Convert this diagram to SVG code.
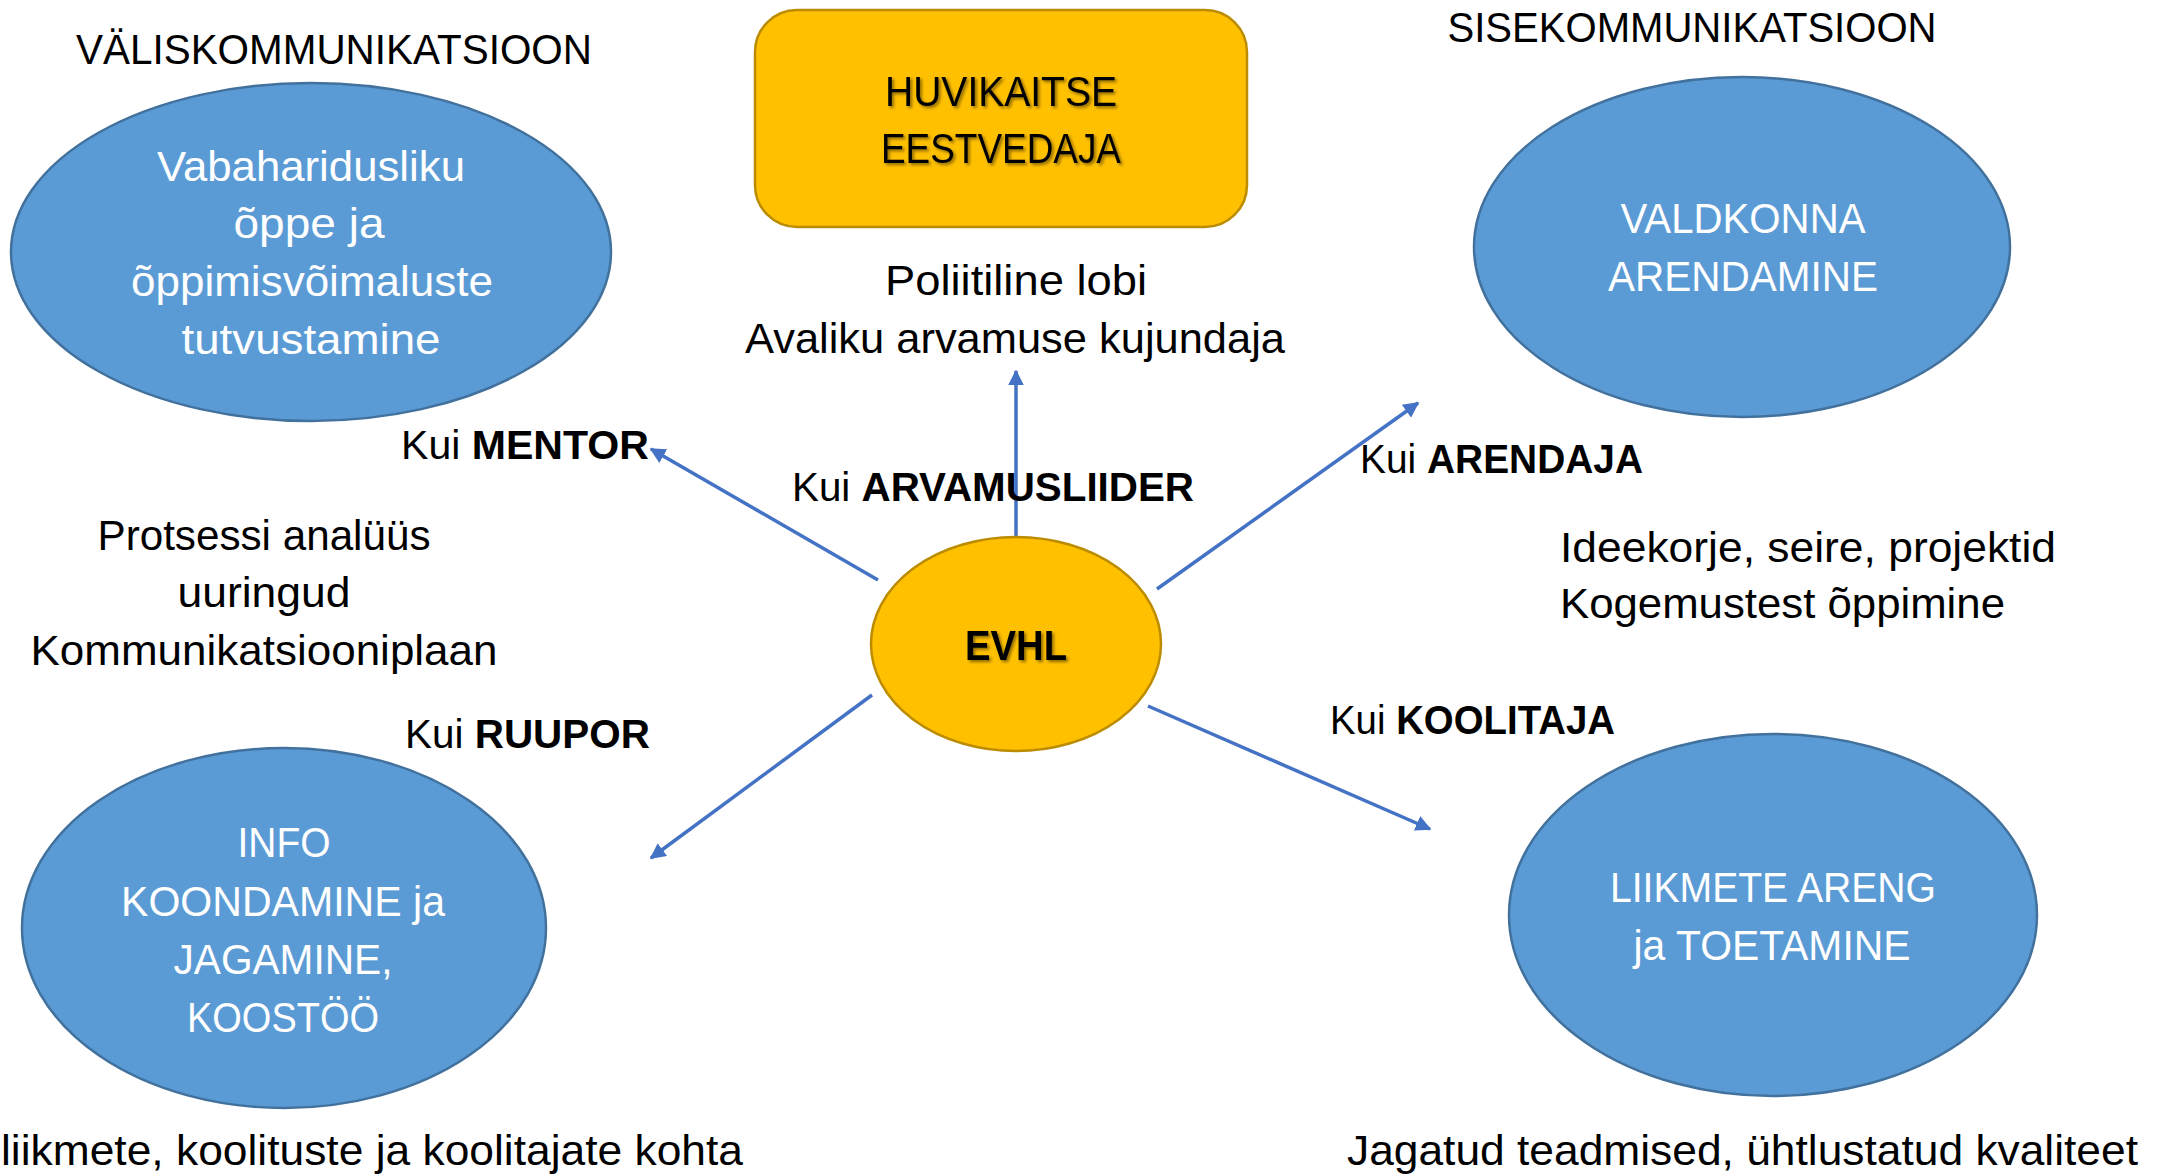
<svg xmlns="http://www.w3.org/2000/svg" width="2159" height="1174" viewBox="0 0 2159 1174">
<style>
.bg{fill:#ffffff}
.blue{fill:#5B9BD5;stroke:#41719C;stroke-width:2.5}
.yellow{fill:#FFC000;stroke:#BC8C00;stroke-width:2.5}
.wt{font-family:"Liberation Sans",Arial,sans-serif;font-size:42px;fill:#ffffff;text-anchor:middle}
.bt{font-family:"Liberation Sans",Arial,sans-serif;font-size:42px;fill:#000000;text-anchor:middle}
.lt{font-family:"Liberation Sans",Arial,sans-serif;font-size:42px;fill:#000000;text-anchor:start}
.kt{font-family:"Liberation Sans",Arial,sans-serif;font-size:40px;fill:#000000;text-anchor:start}
.b{font-weight:bold}
.conn{stroke:#4472C4;stroke-width:3.5;fill:none;marker-end:url(#ah)}
</style>
<defs>
<marker id="ah" viewBox="0 0 10 10" refX="9" refY="5" markerWidth="4.5" markerHeight="4.5" orient="auto" markerUnits="strokeWidth">
<path d="M0,0 L10,5 L0,10 Z" fill="#4472C4"/>
</marker>
<filter id="sh" x="-10%" y="-10%" width="130%" height="140%">
<feDropShadow dx="2" dy="2" stdDeviation="1.5" flood-color="#000000" flood-opacity="0.45"/>
</filter>
</defs>
<rect class="bg" x="0" y="0" width="2159" height="1174"/>

<g id="connectors">
<line class="conn" x1="1016" y1="537" x2="1016" y2="371"/>
<line class="conn" x1="878" y1="580" x2="651" y2="449"/>
<line class="conn" x1="1157" y1="589" x2="1418" y2="403"/>
<line class="conn" x1="872" y1="695" x2="651" y2="858"/>
<line class="conn" x1="1148" y1="706" x2="1430" y2="829"/>
</g>

<g id="title-valis">
<text class="bt" x="334" y="64" textLength="516" lengthAdjust="spacingAndGlyphs">VÄLISKOMMUNIKATSIOON</text>
</g>
<g id="title-sise">
<text class="bt" x="1692" y="42" textLength="489" lengthAdjust="spacingAndGlyphs">SISEKOMMUNIKATSIOON</text>
</g>

<g id="node-vabaharidus">
<ellipse class="blue" cx="311" cy="252" rx="300" ry="169"/>
<text class="wt" x="311" y="181" textLength="308" lengthAdjust="spacingAndGlyphs">Vabaharidusliku</text>
<text class="wt" x="309" y="238" textLength="151" lengthAdjust="spacingAndGlyphs">õppe ja</text>
<text class="wt" x="312" y="296" textLength="362" lengthAdjust="spacingAndGlyphs">õppimisvõimaluste</text>
<text class="wt" x="311" y="354" textLength="259" lengthAdjust="spacingAndGlyphs">tutvustamine</text>
</g>

<g id="node-huvikaitse">
<rect class="yellow" x="755" y="10" width="492" height="217" rx="42" ry="42"/>
<text class="bt" x="1001" y="106" textLength="232" lengthAdjust="spacingAndGlyphs" filter="url(#sh)">HUVIKAITSE</text>
<text class="bt" x="1001" y="163" textLength="240" lengthAdjust="spacingAndGlyphs" filter="url(#sh)">EESTVEDAJA</text>
</g>

<g id="label-poliitiline">
<text class="bt" x="1016" y="295" textLength="262" lengthAdjust="spacingAndGlyphs">Poliitiline lobi</text>
<text class="bt" x="1015" y="353" textLength="540" lengthAdjust="spacingAndGlyphs">Avaliku arvamuse kujundaja</text>
</g>

<g id="node-valdkond">
<ellipse class="blue" cx="1742" cy="247" rx="268" ry="170"/>
<text class="wt" x="1743" y="233" textLength="245" lengthAdjust="spacingAndGlyphs">VALDKONNA</text>
<text class="wt" x="1743" y="291" textLength="270" lengthAdjust="spacingAndGlyphs">ARENDAMINE</text>
</g>

<g id="label-mentor">
<text class="kt" x="401" y="459" textLength="248" lengthAdjust="spacingAndGlyphs">Kui <tspan class="b">MENTOR</tspan></text>
</g>
<g id="label-arvamusliider">
<text class="kt" x="792" y="501" textLength="402" lengthAdjust="spacingAndGlyphs">Kui <tspan class="b">ARVAMUSLIIDER</tspan></text>
</g>
<g id="label-arendaja">
<text class="kt" x="1360" y="473" textLength="283" lengthAdjust="spacingAndGlyphs">Kui <tspan class="b">ARENDAJA</tspan></text>
</g>
<g id="label-ideekorje">
<text class="lt" x="1560" y="562" textLength="496" lengthAdjust="spacingAndGlyphs">Ideekorje, seire, projektid</text>
<text class="lt" x="1560" y="618" textLength="445" lengthAdjust="spacingAndGlyphs">Kogemustest õppimine</text>
</g>
<g id="label-protsessi">
<text class="bt" x="264" y="550" textLength="333" lengthAdjust="spacingAndGlyphs">Protsessi analüüs</text>
<text class="bt" x="264" y="607" textLength="173" lengthAdjust="spacingAndGlyphs">uuringud</text>
<text class="bt" x="264" y="665" textLength="467" lengthAdjust="spacingAndGlyphs">Kommunikatsiooniplaan</text>
</g>

<g id="node-evhl">
<ellipse class="yellow" cx="1016" cy="644" rx="145" ry="107"/>
<text class="bt b" x="1016" y="660" textLength="102" lengthAdjust="spacingAndGlyphs" filter="url(#sh)">EVHL</text>
</g>

<g id="label-ruupor">
<text class="kt" x="405" y="748" textLength="245" lengthAdjust="spacingAndGlyphs">Kui <tspan class="b">RUUPOR</tspan></text>
</g>
<g id="label-koolitaja">
<text class="kt" x="1330" y="734" textLength="285" lengthAdjust="spacingAndGlyphs">Kui <tspan class="b">KOOLITAJA</tspan></text>
</g>

<g id="node-info">
<ellipse class="blue" cx="284" cy="928" rx="262" ry="180"/>
<text class="wt" x="284" y="857" textLength="93" lengthAdjust="spacingAndGlyphs">INFO</text>
<text class="wt" x="283" y="916" textLength="324" lengthAdjust="spacingAndGlyphs">KOONDAMINE ja</text>
<text class="wt" x="283" y="974" textLength="219" lengthAdjust="spacingAndGlyphs">JAGAMINE,</text>
<text class="wt" x="283" y="1032" textLength="192" lengthAdjust="spacingAndGlyphs">KOOSTÖÖ</text>
</g>

<g id="node-liikmete">
<ellipse class="blue" cx="1773" cy="915" rx="264" ry="181"/>
<text class="wt" x="1773" y="902" textLength="326" lengthAdjust="spacingAndGlyphs">LIIKMETE ARENG</text>
<text class="wt" x="1772" y="960" textLength="277" lengthAdjust="spacingAndGlyphs">ja TOETAMINE</text>
</g>

<g id="label-liikmete-kohta">
<text class="lt" x="1" y="1165" textLength="742" lengthAdjust="spacingAndGlyphs">liikmete, koolituste ja koolitajate kohta</text>
</g>
<g id="label-jagatud">
<text class="lt" x="1347" y="1165" textLength="791" lengthAdjust="spacingAndGlyphs">Jagatud teadmised, ühtlustatud kvaliteet</text>
</g>
</svg>
